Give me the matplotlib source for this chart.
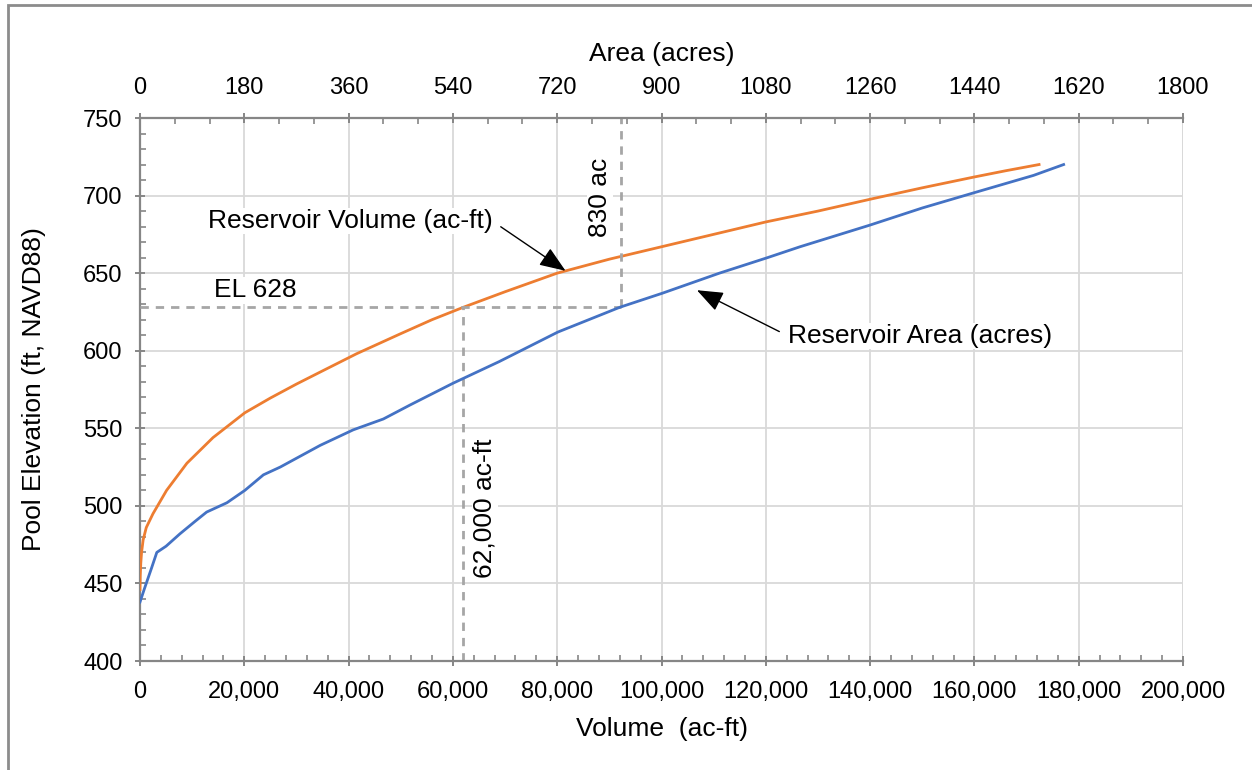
import matplotlib
matplotlib.use("Agg")
import matplotlib.pyplot as plt
from matplotlib.ticker import MultipleLocator, FuncFormatter
from matplotlib.patches import Rectangle

plt.rcParams["font.family"] = ["Liberation Sans", "DejaVu Sans"]

# reservoir volume curve (bottom axis)
vol_acft = [0, 50, 150, 300, 600, 1200, 2500, 5100, 9000, 14000, 20100, 25000,
            30000, 35000, 41500, 50000, 56000, 62000, 70000, 80000, 90000,
            100000, 110000, 120000, 130000, 140500, 150000, 160000, 166000,
            172400]
vol_elev = [446, 455, 463, 470, 478, 486, 495, 510, 527.5, 544, 560, 569.5,
            578.5, 587, 598, 611, 620, 628, 638, 650, 659,
            667, 675, 683, 690, 698, 705, 712, 716,
            720]

# reservoir area curve (top axis)
area_ac = [0, 8, 20, 29, 45, 69, 95, 115, 150, 181, 213, 242, 311, 368, 420,
           466, 540, 620, 721, 828, 901, 1000, 1083, 1139, 1260, 1350, 1441,
           1542, 1594]
area_elev = [438, 447, 460, 470, 474, 482, 490, 496, 502, 510, 520, 525, 539,
             549, 556, 565, 579, 593, 612, 628, 637, 650, 660, 667, 681, 692,
             702, 713, 720]

el_design = 628
vol_design = 62000
area_design = 830

grid_c = "#d9d9d9"
axis_c = "#868686"
dash_c = "#a6a6a6"

fig = plt.figure(figsize=(12.52, 7.70), dpi=100)
ax = fig.add_axes([140/1252, 1-661/770, (1183-140)/1252, (661-118)/770])
ax2 = ax.twiny()

ax.set_xlim(0, 200000)
ax.set_ylim(400, 750)
ax2.set_xlim(0, 1800)

ax.xaxis.set_major_locator(MultipleLocator(20000))
ax.xaxis.set_minor_locator(MultipleLocator(4000))
ax.yaxis.set_major_locator(MultipleLocator(50))
ax.yaxis.set_minor_locator(MultipleLocator(10))
ax2.xaxis.set_major_locator(MultipleLocator(180))
ax2.xaxis.set_minor_locator(MultipleLocator(60))
ax.xaxis.set_major_formatter(FuncFormatter(lambda v, p: f"{int(v):,}"))

ax.grid(True, which="major", color=grid_c, lw=1.3)
ax.set_axisbelow(True)

for a in (ax, ax2):
    for s in a.spines.values():
        s.set_visible(False)
ax.spines["left"].set_visible(True)
ax.spines["bottom"].set_visible(True)
ax2.spines["top"].set_visible(True)
for s in (ax.spines["left"], ax.spines["bottom"], ax2.spines["top"]):
    s.set_color(axis_c)
    s.set_linewidth(1.6)

ax.tick_params(which="major", direction="inout", length=7, width=1.4, color=axis_c,
               labelsize=17, pad=11)
ax.tick_params(axis="y", which="major", pad=9)
ax.tick_params(which="minor", direction="in", length=4, width=1.2, color=axis_c)
ax2.tick_params(which="major", direction="inout", length=7, width=1.4, color=axis_c,
                labelsize=17, pad=10)
ax2.tick_params(which="minor", direction="in", length=4, width=1.2, color=axis_c)
# vertical gridline at right edge
ax.axvline(200000, color=grid_c, lw=1.3, zorder=0)

ax.set_xlabel("Volume  (ac-ft)", fontsize=19, labelpad=10)
ax.set_ylabel("Pool Elevation (ft, NAVD88)", fontsize=19, labelpad=27)
ax2.set_xlabel("Area (acres)", fontsize=19, labelpad=12)

ax.plot(vol_acft, vol_elev, color="#ED7D31", lw=2.0, zorder=3)
ax2.plot(area_ac, area_elev, color="#4472C4", lw=2.0, zorder=3)

# design markers
dash = (0, (3, 2.5))
ax2.plot([0, area_design], [el_design, el_design], color=dash_c, lw=2, ls=dash, zorder=2)
ax2.plot([area_design, area_design], [el_design, 750], color=dash_c, lw=2, ls=dash, zorder=2)
ax.plot([vol_design, vol_design], [400, el_design], color=dash_c, lw=2, ls=dash, zorder=2)

box = dict(facecolor="white", edgecolor="none", pad=1)
ax2.text(22050 * 1800 / 200000, 639, "EL 628", fontsize=19, ha="center", va="center",
         bbox=box, zorder=4)
ax2.text(88200 * 1800 / 200000, 699, "830 ac", fontsize=19, ha="center", va="center",
         rotation=90, bbox=box, zorder=4)
ax2.text(66150 * 1800 / 200000, 498.5, "62,000 ac-ft", fontsize=19, ha="center",
         va="center", rotation=90, bbox=box, zorder=4)

arrow = dict(arrowstyle="-|>,head_length=0.85,head_width=0.33", color="black", lw=1,
             shrinkA=6, shrinkB=0)
ax2.annotate("Reservoir Volume (ac-ft)", xy=(81600, 651.5), xycoords=ax.transData,
             xytext=(40300, 683.5), textcoords=ax.transData,
             fontsize=19, ha="center", va="center", bbox=box, zorder=4,
             arrowprops=dict(arrow, relpos=(1.0, 0.5)))
ax2.annotate("Reservoir Area (acres)", xy=(106800, 639), xycoords=ax.transData,
             xytext=(149600, 609.5), textcoords=ax.transData,
             fontsize=19, ha="center", va="center", bbox=box, zorder=4,
             arrowprops=dict(arrow, relpos=(0.0, 0.5)))

# outer chart frame
fig.add_artist(Rectangle((8/1252, -0.1), 1.2, 0.1 + 1 - 5/770, transform=fig.transFigure,
                         fill=False, edgecolor="#8c8c8c", lw=2, clip_on=False))

fig.savefig("out.png", dpi=100)
